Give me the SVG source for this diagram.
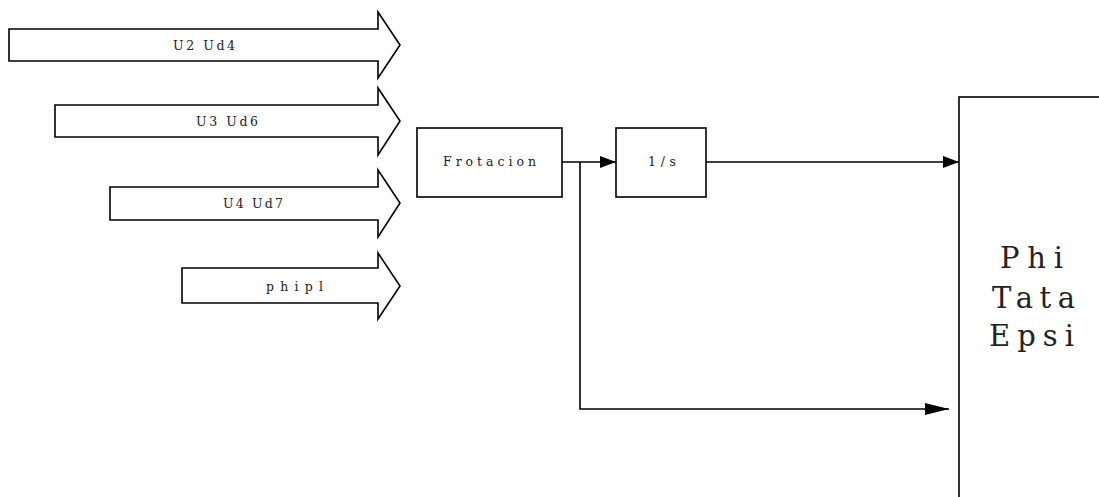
<svg xmlns="http://www.w3.org/2000/svg" width="1099" height="497" viewBox="0 0 1099 497">
<style>
.s{fill:#fff;stroke:#000;stroke-width:1.6}
.l{fill:none;stroke:#000;stroke-width:1.6}
.t{font-family:"DejaVu Serif",serif;font-size:12.5px;fill:#222}
.b{font-family:"DejaVu Serif",serif;font-size:29px;fill:#222}
</style>
<defs>
<marker id="ah" markerWidth="16" markerHeight="12" refX="16" refY="6" orient="auto" markerUnits="userSpaceOnUse"><path d="M0,0 L16,6 L0,12 Z" fill="#000"/></marker>
<marker id="ah2" markerWidth="24" markerHeight="12" refX="24" refY="6" orient="auto" markerUnits="userSpaceOnUse"><path d="M0,0 L24,6 L0,12 Z" fill="#000"/></marker>
</defs>
<g id="in1"><path class="s" d="M9,29 H378 V12 L400,45 L378,78 V61 H9 Z"/><text class="t" x="173" y="50" textLength="62" lengthAdjust="spacing">U2 Ud4</text></g>
<g id="in2"><path class="s" d="M55,105 H378 V88 L400,121 L378,155 V137 H55 Z"/><text class="t" x="196" y="126" textLength="62" lengthAdjust="spacing">U3 Ud6</text></g>
<g id="in3"><path class="s" d="M110,187 H378 V170 L400,203 L378,237 V220 H110 Z"/><text class="t" x="223" y="208" textLength="60" lengthAdjust="spacing">U4 Ud7</text></g>
<g id="in4"><path class="s" d="M182,268 H378 V253 L400,286 L378,319 V303 H182 Z"/><text class="t" x="266" y="291" textLength="57" lengthAdjust="spacing">phipl</text></g>
<g id="frot"><rect class="s" x="417" y="128" width="145" height="69"/><text class="t" x="443" y="166" textLength="93" lengthAdjust="spacing">Frotacion</text></g>
<g id="integ"><rect class="s" x="616" y="128" width="90" height="69"/><text class="t" x="648" y="166" textLength="28" lengthAdjust="spacing">1/s</text></g>
<g id="out"><rect class="s" x="959" y="97" width="200" height="420"/><text class="b" x="1000" y="268" textLength="63" lengthAdjust="spacing">Phi</text><text class="b" x="992" y="308" textLength="83" lengthAdjust="spacing">Tata</text><text class="b" x="989" y="346" textLength="85" lengthAdjust="spacing">Epsi</text></g>
<g id="connectors">
<path class="l" d="M562,162 H616" marker-end="url(#ah)"/>
<path class="l" d="M706,162 H959" marker-end="url(#ah)"/>
<path class="l" d="M580,162 V409 H949" marker-end="url(#ah2)"/>
</g>
</svg>
